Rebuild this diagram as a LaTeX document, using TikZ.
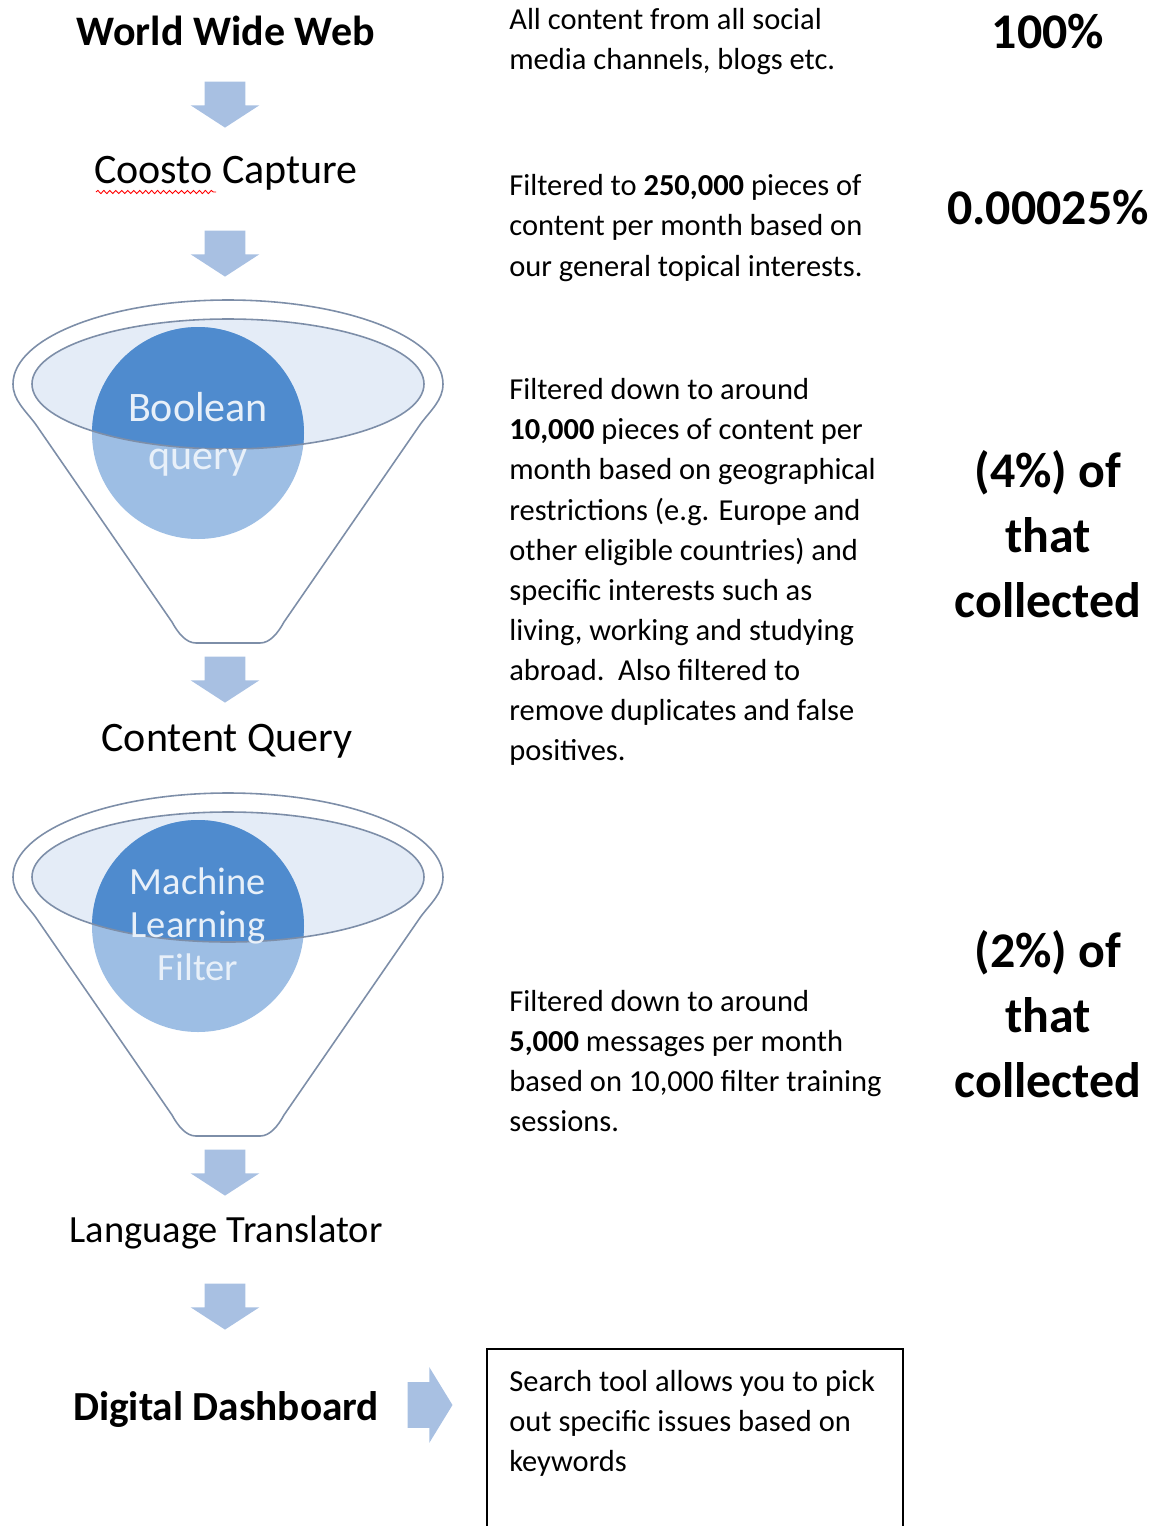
\documentclass[tikz,border=0pt]{standalone}
\usepackage{fontspec}
\setmainfont{Carlito}
\usetikzlibrary{shapes.arrows, decorations.pathmorphing}

\definecolor{arrowblue}{RGB}{168,192,226}
\definecolor{rimline}{RGB}{125,142,168}
\definecolor{rimfill}{RGB}{228,236,247}
\definecolor{balldark}{RGB}{79,139,206}
\definecolor{balllight}{RGB}{157,190,228}
\definecolor{balltext}{RGB}{232,240,249}

\tikzstyle{heading} = [text centered, inner sep=0pt, font=\fontsize{23.9}{28}\selectfont]
\tikzstyle{boldheading} = [heading, font=\fontsize{23.5}{28}\selectfont\bfseries]
\tikzstyle{note} = [anchor=west, align=left, inner sep=0pt, font=\fontsize{17.35}{22.8}\selectfont]
\tikzstyle{share} = [align=center, inner sep=0pt, font=\fontsize{28.4}{37}\selectfont\bfseries]
\tikzstyle{ball} = [align=center, inner sep=0pt, text=balltext, font=\fontsize{21.9}{24.5}\selectfont]
\tikzstyle{downarrow} = [single arrow, rotate=-90, fill=arrowblue, draw=none, inner sep=0pt,
        text width=0pt, text height=0.4cm, text depth=0.4cm,
        minimum height=0.92cm, single arrow head extend=0.28cm, single arrow tip angle=114]
\tikzstyle{rightarrow} = [single arrow, fill=arrowblue, draw=none, inner sep=0pt,
        text width=0pt, text height=0.45cm, text depth=0.45cm,
        minimum height=0.9cm, single arrow head extend=0.3cm, single arrow tip angle=117]
\tikzstyle{funnel} = [draw=rimline, line width=0.9pt, fill=white]
\tikzstyle{rim} = [draw=rimline, line width=0.9pt]
\tikzstyle{spellcheck} = [red, line width=0.5pt, decorate, decoration={snake, amplitude=0.9pt, segment length=3.4pt}]

\begin{document}
\begin{tikzpicture}[x=0.02cm, y=-0.02cm]
\useasboundingbox (0,0) rectangle (1157,1526);
\clip (0,0) rectangle (1157,1526);

% left column
\node (www) [boldheading, font=\fontsize{23.9}{28}\selectfont\bfseries] at (226,31) {World Wide Web};
\node (arrow1) [downarrow] at (225,98) {};
\node (capture) [heading] at (226,173) {Coosto Capture};
\draw [spellcheck] (96,192) -- (216,192);
\node (arrow2) [downarrow] at (225,247) {};

% first funnel
\draw [funnel] (13,384) arc (180:360:215 and 84)
    .. controls (443,400) and (431,410) .. (420.5,424) -- (284,622)
    .. controls (278,633) and (270,643) .. (260,643) -- (196,643)
    .. controls (186,643) and (178,633) .. (172,622) -- (35.5,424)
    .. controls (25,410) and (13,400) .. cycle;
\fill [rimfill] (228,384) ellipse (196 and 65);
\fill [balllight] (198,433) circle (106);
\begin{scope}
\clip (228,384) ellipse (196 and 65);
\fill [balldark] (198,433) circle (106);
\end{scope}
\draw [rim] (228,384) ellipse (196 and 65);
\node (boolean) [ball, font=\fontsize{23.9}{27.3}\selectfont] at (198,434) {Boolean\\query};

\node (arrow3) [downarrow] at (225,673) {};
\node (query) [heading] at (227,741) {Content Query};

% second funnel
\begin{scope}[shift={(0,493)}]
\draw [funnel] (13,384) arc (180:360:215 and 84)
    .. controls (443,400) and (431,410) .. (420.5,424) -- (284,622)
    .. controls (278,633) and (270,643) .. (260,643) -- (196,643)
    .. controls (186,643) and (178,633) .. (172,622) -- (35.5,424)
    .. controls (25,410) and (13,400) .. cycle;
\fill [rimfill] (228,384) ellipse (196 and 65);
\fill [balllight] (198,433) circle (106);
\begin{scope}
\clip (228,384) ellipse (196 and 65);
\fill [balldark] (198,433) circle (106);
\end{scope}
\draw [rim] (228,384) ellipse (196 and 65);
\end{scope}
\node (mlfilter) [ball] at (198,924) {Machine\\Learning\\Filter};

\node (arrow4) [downarrow] at (225,1166) {};
\node (translator) [heading, font=\fontsize{21.9}{28}\selectfont] at (226,1232) {Language Translator};
\node (arrow5) [downarrow] at (225,1300) {};
\node (dashboard) [boldheading] at (226,1409) {Digital Dashboard};
\node (arrow6) [rightarrow] at (423,1405) {};

% right column
\node (allcontent) [note] at (509,42) {All content from all social\\media channels, blogs etc.};
\node (topical) [note] at (509,228) {Filtered to \textbf{250,000} pieces of\\content per month based on\\our general topical interests.};
\node (geo) [note] at (509,572) {Filtered down to around\\\textbf{10,000} pieces of content per\\month based on geographical\\restrictions (e.g. Europe and\\other eligible countries) and\\specific interests such as\\living, working and studying\\abroad.\ \ Also filtered to\\remove duplicates and false\\positives.};
\node (training) [note] at (509,1061) {Filtered down to around\\\textbf{5,000} messages per month\\based on 10,000 filter training\\sessions.};
\node (search) [note] at (509,1423) {Search tool allows you to pick\\out specific issues based on\\keywords};
\draw [line width=0.9pt] (487,1560) |- (903,1349) -- (903,1560);

% percentages
\node (p100) [share] at (1048,31) {100\%};
\node (p250) [share] at (1048,207) {0.00025\%};
\node (p4) [share] at (1048,534) {(4\%) of\\that\\collected};
\node (p2) [share] at (1048,1014) {(2\%) of\\that\\collected};

\end{tikzpicture}
\end{document}
